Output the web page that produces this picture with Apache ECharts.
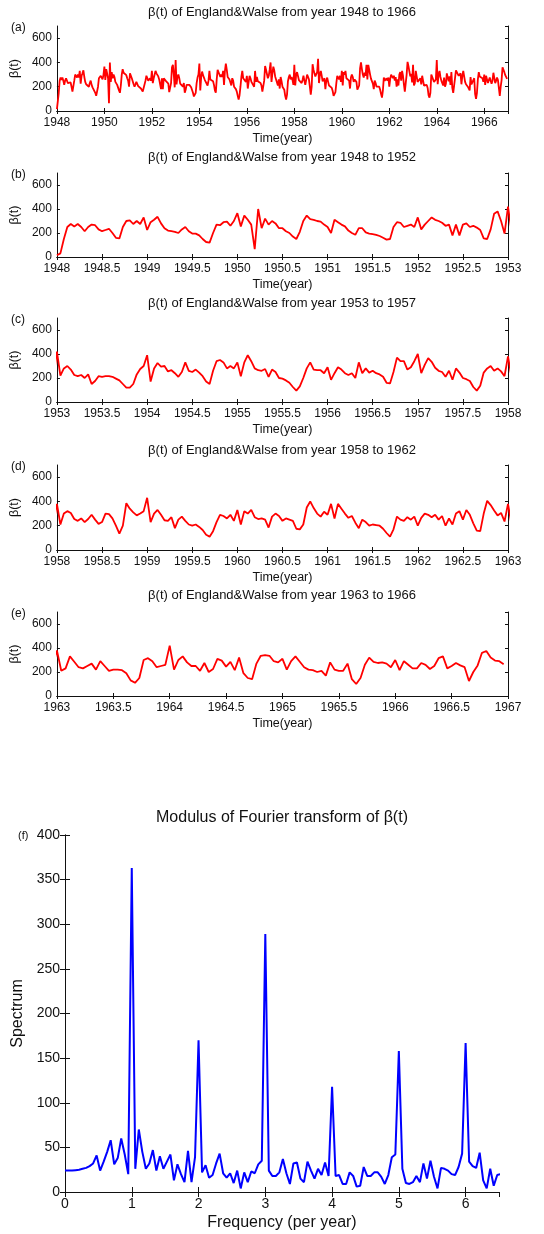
<!DOCTYPE html>
<html>
<head>
<meta charset="utf-8">
<script src="https://cdn.jsdelivr.net/npm/echarts@6/dist/echarts.min.js"></script>
<style>
  html, body { margin: 0; padding: 0; background: #ffffff; }
  #chart { width: 544px; height: 1234px; }
</style>
</head>
<body>
<div id="chart"></div>
<script>
// Biweekly transmission rate beta(t), England & Wales, 26 samples per year
const START_YEAR = 1948;
const SAMPLES_PER_YEAR = 26;

const beta1948to1952 = [
  15, 30, 150, 250, 275, 255, 275, 250, 215, 250, 270, 265, 230, 215, 225, 235, 200, 160, 155, 250, 300, 305, 275, 300, 275, 330,
  225, 290, 310, 335, 280, 240, 220, 215, 210, 200, 230, 250, 215, 195, 195, 180, 150, 125, 120, 200, 270, 265, 290, 295, 260, 300,
  365, 255, 345, 310, 270, 65, 400, 240, 320, 270, 300, 280, 240, 240, 215, 200, 170, 150, 210, 300, 345, 315, 310, 300, 295, 270,
  250, 200, 310, 290, 270, 255, 220, 200, 185, 240, 240, 205, 195, 190, 185, 175, 160, 145, 150, 250, 290, 285, 250, 260, 270, 250,
  330, 230, 270, 300, 330, 310, 300, 285, 260, 270, 180, 270, 180, 270, 280, 250, 260, 245, 225, 155, 150, 230, 360, 380, 300, 195
];
const beta1953to1957 = [
  420, 220, 280, 300, 270, 225, 215, 225, 200, 230, 150, 175, 215, 210, 215, 215, 210, 195, 180, 150, 120, 120, 150, 230, 275, 300,
  390, 170, 280, 325, 295, 300, 255, 265, 240, 210, 250, 330, 260, 250, 270, 245, 215, 170, 150, 260, 340, 350, 330, 280, 300, 280,
  330, 215, 330, 390, 340, 280, 265, 260, 275, 210, 270, 250, 200, 195, 180, 160, 125, 95, 130, 200, 280, 330, 270, 265, 265, 240,
  290, 185, 240, 290, 270, 240, 225, 240, 200, 330, 240, 280, 245, 260, 240, 230, 210, 160, 155, 250, 370, 340, 340, 270, 290, 340,
  400, 240, 310, 365, 335, 285, 260, 250, 210, 260, 185, 280, 245, 200, 190, 175, 125, 95, 135, 245, 280, 300, 260, 280, 255, 215
];
const beta1958to1962 = [
  380, 210, 300, 320, 305, 255, 240, 260, 230, 255, 290, 250, 215, 230, 300, 295, 260, 200, 135, 200, 385, 340, 310, 285, 300, 320,
  430, 230, 300, 330, 290, 245, 240, 270, 180, 250, 275, 240, 210, 200, 210, 190, 165, 125, 110, 155, 230, 290, 280, 260, 290, 240,
  330, 210, 320, 300, 330, 270, 255, 260, 250, 185, 275, 300, 280, 240, 260, 250, 240, 175, 170, 210, 350, 400, 345, 300, 275, 315,
  290, 380, 260, 380, 340, 300, 265, 280, 225, 180, 250, 230, 200, 210, 205, 200, 175, 140, 110, 170, 275, 250, 240, 270, 250, 275,
  200, 265, 300, 290, 270, 290, 250, 280, 200, 260, 210, 300, 320, 250, 330, 290, 220, 160, 155, 300, 405, 370, 325, 285, 305, 235
];
const beta1963to1966 = [
  380, 210, 230, 330, 285, 240, 230, 250, 270, 220, 290, 250, 210, 220, 220, 215, 190, 130, 110, 150, 300, 315, 290, 240, 250, 260,
  420, 220, 300, 330, 280, 250, 250, 210, 275, 200, 225, 310, 295, 245, 285, 215, 320, 190, 150, 140, 270, 335, 340, 335, 290, 280,
  310, 220, 290, 330, 285, 240, 220, 215, 200, 210, 170, 280, 220, 210, 210, 270, 140, 100, 150, 260, 320, 285, 275, 280, 270, 240,
  300, 215, 290, 260, 230, 230, 275, 260, 225, 250, 315, 330, 230, 250, 275, 255, 240, 125, 200, 255, 360, 375, 320, 295, 290, 265
];

// Modulus of the Fourier transform; bin k sits at k / RECORD_YEARS cycles per year
const RECORD_YEARS = 19;
const spectrum = [
  24, 24, 24, 24.5, 25, 26, 27, 29, 32, 41, 24, 34, 45, 58, 31, 38, 60, 42, 20,
  363, 26, 70, 45, 26, 32, 47, 24, 40, 26, 34, 42, 13, 31, 20, 11, 46, 11, 39,
  170, 22, 30, 16, 19, 32, 43, 21, 16, 21, 10, 24, 4, 22, 11, 23, 21, 31, 35,
  289, 24, 18, 18, 22, 37, 21, 9, 32, 33, 15, 11, 34, 24, 15, 26, 19, 33, 18,
  118, 18, 19, 9, 9, 22, 18, 6, 7, 28, 18, 18, 22, 22, 17, 9, 19, 39, 42,
  158, 26, 10, 9, 11, 18, 11, 32, 15, 35, 17, 4, 27, 26, 24, 20, 19, 28, 43,
  167, 34, 29, 27, 44, 13, 4, 26, 7, 19, 20
];

// Panel text and axis ranges [min, max, interval]
const panelLetters = ['(a)', '(b)', '(c)', '(d)', '(e)', '(f)'];
const panelTitles = [
  'β(t) of England&Walse from year 1948 to 1966',
  'β(t) of England&Walse from year 1948 to 1952',
  'β(t) of England&Walse from year 1953 to 1957',
  'β(t) of England&Walse from year 1958 to 1962',
  'β(t) of England&Walse from year 1963 to 1966',
  'Modulus of Fourier transform of β(t)'
];
const timeRanges = [
  [1948, 1967, 2],
  [1948, 1953, 0.5],
  [1953, 1958, 0.5],
  [1958, 1963, 0.5],
  [1963, 1967, 0.5]
];
const betaRange = [0, 700, 200];
const freqRange = [0, 6.5, 1];
const spectrumRange = [0, 400, 50];

// ---- build series points ----
const betaAll = [].concat(beta1948to1952, beta1953to1957, beta1958to1962, beta1963to1966);
const betaPoints = betaAll.map((v, i) => [START_YEAR + i / SAMPLES_PER_YEAR, v]);
const spectrumPoints = spectrum.map((v, k) => [k / RECORD_YEARS, v]);

// ---- layout ----
const FONT = '"Liberation Sans", Arial, Helvetica, sans-serif';
const INK = '#111111';
const timeGrids = [
  { top: 26, height: 85, titleGap: 14 },
  { top: 173, height: 84, titleGap: 16 },
  { top: 318, height: 84, titleGap: 15 },
  { top: 465, height: 85, titleGap: 15 },
  { top: 612, height: 84, titleGap: 17 }
];
const TIME_LEFT = 56, TIME_RIGHT = 36;
const spec = { left: 65, right: 45, top: 835, height: 357 };

const fmt = v => String(Math.round(v * 10) / 10);

const grids = [], xAxes = [], yAxes = [], series = [], graphics = [];

// Boxed axes: labelled bottom/left axes plus mirrored top/right axes with inward ticks
function boxAxes(gi, xr, yr, opts) {
  const tick = { show: true, inside: true, length: opts.tickLen, lineStyle: { color: INK, width: 1 } };
  const line = { show: true, lineStyle: { color: INK, width: 1 } };
  const label = { show: true, color: INK, fontFamily: FONT, fontSize: opts.tickFont, formatter: fmt };
  xAxes.push({
    type: 'value', gridIndex: gi, position: 'bottom', min: xr[0], max: xr[1], interval: xr[2],
    axisLine: line, axisTick: tick, splitLine: { show: false },
    axisLabel: Object.assign({ margin: opts.xLabelMargin, showMaxLabel: opts.showXMax, showMinLabel: true }, label),
    name: opts.xName, nameLocation: 'middle', nameGap: opts.xNameGap,
    nameTextStyle: { color: INK, fontFamily: FONT, fontSize: opts.nameFont }
  });
  xAxes.push({
    type: 'value', gridIndex: gi, position: 'top', min: xr[0], max: xr[1], interval: xr[2],
    axisLine: line, axisTick: tick, splitLine: { show: false }, axisLabel: { show: false }
  });
  yAxes.push({
    type: 'value', gridIndex: gi, position: 'left', min: yr[0], max: yr[1], interval: yr[2],
    axisLine: line, axisTick: tick, splitLine: { show: false },
    axisLabel: Object.assign({ margin: opts.yLabelMargin, showMaxLabel: opts.showYMax, showMinLabel: true }, label),
    name: opts.yName, nameLocation: 'middle', nameGap: opts.yNameGap, nameRotate: 90,
    nameTextStyle: { color: INK, fontFamily: FONT, fontSize: opts.nameFont }
  });
  yAxes.push({
    type: 'value', gridIndex: gi, position: 'right', min: yr[0], max: yr[1], interval: yr[2],
    axisLine: line, axisTick: tick, splitLine: { show: false }, axisLabel: { show: false }
  });
}

timeGrids.forEach((g, i) => {
  grids.push({ left: TIME_LEFT, right: TIME_RIGHT, top: g.top, height: g.height, containLabel: false });
  boxAxes(i, timeRanges[i], betaRange, {
    tickLen: 3, tickFont: 12, nameFont: 12.5, xLabelMargin: 6, yLabelMargin: 5,
    showXMax: i !== 0, showYMax: false,
    xName: 'Time(year)', xNameGap: 21, yName: 'β(t)', yNameGap: 33
  });
  series.push({
    type: 'line', xAxisIndex: 2 * i, yAxisIndex: 2 * i, data: betaPoints,
    showSymbol: false, symbol: 'none', clip: true, silent: true,
    lineStyle: { color: '#ff0000', width: 1.8 }
  });
  graphics.push({
    type: 'text', x: (TIME_LEFT + 544 - TIME_RIGHT) / 2, y: g.top - g.titleGap,
    style: { text: panelTitles[i], fill: INK, font: '13px ' + FONT, textAlign: 'center', textVerticalAlign: 'middle' }
  });
  graphics.push({
    type: 'text', x: 11, y: g.top + 2,
    style: { text: panelLetters[i], fill: INK, font: '12px ' + FONT, textAlign: 'left', textVerticalAlign: 'middle' }
  });
});

// Spectrum panel
grids.push({ left: spec.left, right: spec.right, top: spec.top, height: spec.height, containLabel: false });
boxAxes(5, freqRange, spectrumRange, {
  tickLen: 5, tickFont: 14, nameFont: 16, xLabelMargin: 5, yLabelMargin: 5,
  showXMax: false, showYMax: true,
  xName: 'Frequency (per year)', xNameGap: 23, yName: 'Spectrum', yNameGap: 33
});
series.push({
  type: 'line', xAxisIndex: 10, yAxisIndex: 10, data: spectrumPoints,
  showSymbol: false, symbol: 'none', clip: true, silent: true,
  lineStyle: { color: '#0000ff', width: 2 }
});
graphics.push({
  type: 'text', x: (spec.left + 544 - spec.right) / 2, y: spec.top - 17,
  style: { text: panelTitles[5], fill: INK, font: '16px ' + FONT, textAlign: 'center', textVerticalAlign: 'middle' }
});
graphics.push({
  type: 'text', x: 18, y: spec.top + 1,
  style: { text: panelLetters[5], fill: INK, font: '11px ' + FONT, textAlign: 'left', textVerticalAlign: 'middle' }
});

const chart = echarts.init(document.getElementById('chart'), null, { renderer: 'canvas' });
chart.setOption({
  animation: false,
  backgroundColor: '#ffffff',
  textStyle: { fontFamily: FONT },
  grid: grids,
  xAxis: xAxes,
  yAxis: yAxes,
  series: series,
  graphic: graphics
});
</script>
</body>
</html>
